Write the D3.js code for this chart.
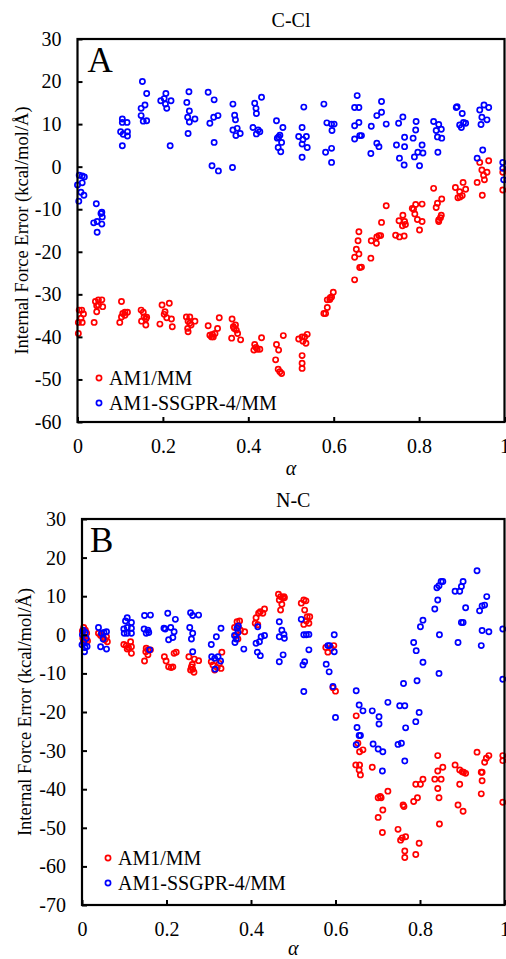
<!DOCTYPE html>
<html>
<head>
<meta charset="utf-8">
<script src="https://cdn.jsdelivr.net/npm/d3@7"></script>
<style>
  body { margin: 0; background: #fff; }
  svg text { font-family: "Liberation Serif", "Times New Roman", serif; fill: #000; }
</style>
</head>
<body>
<svg id="chart" width="506" height="959"></svg>
<script>
// tick labels
let xTicks = [0, 0.2, 0.4, 0.6, 0.8, 1]
let yTicksA = [30, 20, 10, 0, -10, -20, -30, -40, -50, -60]
let yTicksB = [30, 20, 10, 0, -10, -20, -30, -40, -50, -60, -70]
let seriesNames = ['AM1/MM', 'AM1-SSGPR-4/MM']
let seriesColors = ['#ff0000', '#0000ff']

// C-Cl, AM1/MM  [alpha, error]
let cclAm1 = [
  [0.004,-33.7],[0.010,-33.7],[0.014,-34.6],[0.008,-35.6],[0.002,-36.6],[0.011,-36.6],[0.002,-39.2],
  [0.039,-36.6],[0.045,-34.1],[0.042,-31.7],[0.049,-32.5],[0.057,-31.3],[0.059,-32.9],[0.049,-31.3],[0.045,-32.7],
  [0.099,-36.6],[0.103,-31.7],[0.106,-34.5],[0.111,-34.2],[0.117,-34.2],[0.103,-35.3],[0.111,-34.9],
  [0.149,-33.7],[0.150,-36.3],[0.154,-34.2],[0.160,-35.8],[0.160,-37.2],[0.162,-35.4],[0.156,-35.3],
  [0.193,-37.0],[0.198,-32.5],[0.203,-34.7],[0.209,-35.5],[0.215,-32.1],[0.220,-35.8],[0.222,-37.6],[0.205,-34.1],
  [0.255,-35.3],[0.259,-36.3],[0.258,-38.0],[0.259,-38.8],[0.263,-35.3],[0.266,-37.2],[0.275,-36.3],[0.263,-36.8],
  [0.306,-37.4],[0.310,-39.6],[0.314,-40.0],[0.318,-40.0],[0.322,-39.2],[0.328,-38.0],[0.332,-35.5],[0.316,-39.4],
  [0.361,-40.3],[0.362,-35.8],[0.365,-37.6],[0.367,-38.0],[0.370,-37.2],[0.372,-38.4],[0.375,-39.2],[0.382,-40.7],
  [0.413,-43.1],[0.415,-41.8],[0.418,-42.5],[0.421,-42.9],[0.427,-42.9],[0.431,-40.2],
  [0.466,-41.8],[0.471,-43.1],[0.464,-45.4],[0.470,-47.6],[0.474,-48.2],[0.478,-48.6],[0.482,-39.7],
  [0.518,-40.5],[0.526,-40.0],[0.532,-40.0],[0.538,-39.4],[0.528,-41.0],[0.535,-41.5],[0.526,-44.4],[0.526,-46.2],[0.526,-47.4],
  [0.577,-34.5],[0.581,-34.5],[0.585,-33.1],[0.585,-31.3],[0.591,-31.2],[0.595,-30.6],[0.599,-29.5],[0.592,-30.8],
  [0.649,-26.6],[0.649,-21.3],[0.653,-19.4],[0.657,-17.4],[0.659,-15.3],[0.659,-20.5],[0.661,-23.7],[0.665,-23.6],
  [0.687,-21.5],[0.688,-17.4],[0.700,-18.0],[0.701,-16.5],[0.706,-16.2],[0.710,-16.2],[0.712,-13.1],[0.723,-9.2],
  [0.745,-16.1],[0.754,-16.5],[0.765,-16.3],[0.753,-12.7],[0.762,-11.4],[0.766,-12.9],[0.768,-13.6],[0.761,-13.9],
  [0.784,-9.8],[0.790,-11.1],[0.792,-8.9],[0.796,-12.4],[0.807,-8.8],[0.807,-12.9],[0.801,-14.9],[0.787,-10.0],
  [0.834,-5.1],[0.840,-9.6],[0.843,-8.6],[0.846,-12.5],[0.850,-12.0],[0.853,-7.6],[0.846,-12.9],[0.852,-11.4],
  [0.885,-4.9],[0.891,-7.3],[0.895,-5.9],[0.901,-6.8],[0.903,-3.7],[0.909,-5.3],[0.896,-7.1],
  [0.936,-3.7],[0.942,1.0],[0.947,-0.8],[0.951,-2.0],[0.953,-3.1],[0.959,-1.3],[0.963,1.4],[0.948,-6.7],
  [0.996,-1.3],[0.996,-5.5]
]

// C-Cl, AM1-SSGPR-4/MM
let cclSsgpr = [
  [0.004,-2.0],[0.011,-2.2],[0.016,-2.4],[0.000,-4.3],[0.011,-3.8],[0.008,-6.0],[0.015,-6.7],[0.003,-8.1],
  [0.044,-8.7],[0.055,-11.0],[0.038,-13.2],[0.046,-12.9],[0.057,-10.7],[0.058,-11.8],[0.057,-13.5],[0.046,-15.4],
  [0.105,11.2],[0.105,10.4],[0.116,10.4],[0.101,8.2],[0.107,7.6],[0.117,8.2],[0.117,7.2],[0.105,4.9],
  [0.152,20.0],[0.149,13.7],[0.158,14.5],[0.149,12.0],[0.154,10.7],[0.162,10.8],[0.162,17.2],
  [0.195,15.5],[0.203,16.0],[0.207,17.2],[0.206,14.7],[0.209,13.7],[0.219,15.5],[0.217,4.9],
  [0.256,15.1],[0.261,17.6],[0.262,13.1],[0.258,11.6],[0.262,10.5],[0.275,11.2],[0.259,7.8],
  [0.306,17.5],[0.310,10.2],[0.320,15.7],[0.319,11.6],[0.329,12.0],[0.320,5.7],[0.315,0.2],[0.330,-1.0],
  [0.364,14.7],[0.368,12.1],[0.370,11.0],[0.364,8.6],[0.374,9.0],[0.371,7.3],[0.381,7.8],[0.363,-0.2],
  [0.415,14.9],[0.418,13.7],[0.419,12.5],[0.411,9.2],[0.423,8.6],[0.419,7.7],[0.427,8.2],[0.431,16.3],
  [0.466,10.8],[0.474,7.4],[0.468,6.7],[0.478,5.7],[0.470,4.5],[0.476,3.5],[0.481,9.2],[0.471,7.0],
  [0.530,14.0],[0.526,9.2],[0.518,7.1],[0.536,7.1],[0.526,5.3],[0.538,4.5],[0.526,2.2],[0.528,6.4],
  [0.577,14.7],[0.584,10.3],[0.595,10.0],[0.601,10.0],[0.596,8.5],[0.581,3.4],[0.595,4.3],[0.595,1.0],
  [0.655,16.7],[0.649,13.9],[0.659,13.9],[0.649,9.6],[0.659,10.4],[0.661,7.3],[0.665,7.3],[0.649,6.5],
  [0.688,9.5],[0.701,12.0],[0.712,12.8],[0.712,15.3],[0.723,10.0],[0.701,5.5],[0.706,4.7],[0.687,3.1],
  [0.752,10.2],[0.762,11.7],[0.747,5.1],[0.766,6.9],[0.766,4.7],[0.754,2.0],[0.765,0.4],
  [0.793,10.6],[0.792,8.6],[0.786,6.7],[0.797,3.4],[0.789,2.3],[0.807,5.1],[0.801,0.2],[0.809,3.2],
  [0.834,10.6],[0.846,9.9],[0.840,8.5],[0.852,8.8],[0.843,7.0],[0.853,6.7],[0.844,3.4],
  [0.887,13.9],[0.889,14.1],[0.901,12.5],[0.895,9.8],[0.899,9.2],[0.904,10.4],[0.909,10.2],
  [0.942,13.3],[0.952,14.5],[0.963,13.9],[0.947,11.6],[0.959,11.0],[0.945,9.9],[0.949,3.9],[0.936,2.0],
  [0.996,1.0],[0.996,-0.4],[0.998,-3.1]
]

// N-C, AM1/MM
let ncAm1 = [
  [0.004,1.9],[0.008,1.2],[0.011,0.4],[0.002,-0.9],[0.009,-1.3],[0.003,-2.0],[0.013,-1.6],[0.001,1.0],
  [0.039,0.4],[0.044,-0.2],[0.050,-0.7],[0.054,-1.3],[0.060,-1.8],[0.047,0.1],[0.058,-0.5],
  [0.099,-2.5],[0.105,-2.8],[0.110,-3.3],[0.115,-1.8],[0.117,-3.1],[0.117,-4.8],[0.107,-3.7],
  [0.148,-6.8],[0.152,-3.5],[0.156,-3.9],[0.162,-3.9],[0.156,-5.2],[0.151,-4.4],
  [0.195,-5.7],[0.199,-6.8],[0.205,-8.3],[0.211,-8.5],[0.215,-8.3],[0.218,-4.8],[0.223,-4.5],
  [0.253,-5.7],[0.259,-8.3],[0.262,-8.9],[0.265,-9.7],[0.257,-9.1],[0.266,-6.3],[0.276,-6.7],[0.261,-7.7],
  [0.306,-7.0],[0.310,-7.8],[0.314,-9.1],[0.320,-8.5],[0.325,-7.4],[0.329,-8.7],[0.331,-4.5],
  [0.361,1.9],[0.367,3.4],[0.373,3.6],[0.370,1.9],[0.375,1.2],[0.385,0.8],[0.365,-0.2],[0.369,-1.1],
  [0.410,3.0],[0.412,4.4],[0.418,5.6],[0.422,6.0],[0.428,5.6],[0.432,6.7],[0.416,2.6],
  [0.465,10.5],[0.470,9.9],[0.475,9.6],[0.479,9.6],[0.467,9.0],[0.473,7.9],[0.470,6.4],[0.478,9.9],
  [0.519,8.2],[0.525,9.0],[0.530,8.8],[0.527,6.4],[0.533,4.7],[0.537,3.0],[0.525,2.7],[0.539,4.7],[0.531,3.6],
  [0.577,-3.3],[0.582,-4.5],[0.596,-2.8],[0.594,-13.7],[0.600,-14.6],[0.590,-3.5],
  [0.649,-21.0],[0.653,-28.1],[0.657,-30.3],[0.665,-29.8],[0.648,-33.7],[0.657,-33.7],[0.656,-35.0],[0.659,-36.3],
  [0.687,-34.3],[0.701,-42.2],[0.706,-41.9],[0.708,-42.2],[0.712,-45.4],[0.724,-40.5],[0.701,-47.3],[0.711,-51.2],
  [0.748,-50.4],[0.754,-53.2],[0.758,-52.6],[0.766,-52.3],[0.764,-56.0],[0.764,-57.7],[0.760,-44.1],[0.762,-44.5],
  [0.790,-56.9],[0.798,-54.0],[0.794,-42.2],[0.785,-43.2],[0.790,-38.7],[0.801,-38.7],[0.807,-37.4],
  [0.835,-37.4],[0.842,-31.3],[0.842,-35.3],[0.850,-37.4],[0.854,-34.3],[0.842,-39.8],[0.845,-42.2],[0.846,-49.0],
  [0.883,-33.7],[0.894,-35.0],[0.900,-35.5],[0.903,-35.6],[0.908,-35.9],[0.894,-38.7],[0.890,-44.1],[0.902,-45.7],
  [0.935,-30.4],[0.947,-35.6],[0.953,-33.0],[0.957,-32.0],[0.963,-31.3],[0.945,-35.6],[0.947,-37.8],[0.945,-41.2],
  [0.996,-31.3],[0.996,-32.6],[0.996,-43.4]
]

// N-C, AM1-SSGPR-4/MM
let ncSsgpr = [
  [0.003,1.2],[0.008,0.6],[0.001,0.0],[0.010,-0.9],[0.004,-1.8],[0.000,-2.6],[0.007,-3.3],[0.012,-3.0],[0.006,-4.4],
  [0.039,1.9],[0.046,0.4],[0.052,0.6],[0.058,0.8],[0.044,-3.1],[0.058,-3.7],[0.050,-1.1],
  [0.107,4.4],[0.103,3.6],[0.117,3.2],[0.107,1.9],[0.099,1.5],[0.117,1.7],[0.107,0.4],[0.117,0.4],[0.100,0.4],
  [0.148,5.0],[0.162,5.1],[0.147,1.5],[0.156,1.2],[0.152,0.4],[0.160,-3.9],[0.158,0.6],
  [0.194,1.7],[0.203,5.6],[0.210,1.9],[0.221,4.0],[0.218,0.8],[0.205,-1.3],[0.215,-0.7],[0.197,1.5],
  [0.257,5.7],[0.262,5.0],[0.276,5.1],[0.255,1.9],[0.262,0.4],[0.259,-1.1],[0.262,-4.4],
  [0.306,-2.5],[0.318,-0.5],[0.329,1.7],[0.307,-5.7],[0.314,-6.1],[0.315,-8.9],[0.322,-5.7],[0.328,-6.8],
  [0.361,-0.2],[0.367,1.7],[0.370,2.3],[0.365,-1.1],[0.369,0.6],[0.383,-3.7],[0.362,-2.0],
  [0.416,2.1],[0.412,-2.2],[0.420,-1.8],[0.424,-0.5],[0.415,-4.5],[0.422,-5.4],[0.432,-0.2],
  [0.467,3.4],[0.473,1.2],[0.478,0.1],[0.479,-0.9],[0.467,-0.5],[0.476,-5.2],[0.467,-7.0],
  [0.519,4.0],[0.525,0.0],[0.531,0.0],[0.537,0.1],[0.537,-3.9],[0.527,-7.0],[0.523,-7.8],[0.525,-14.7],
  [0.582,-2.8],[0.586,-2.8],[0.597,0.0],[0.597,-4.4],[0.578,-7.6],[0.585,-9.6],[0.594,-13.4],[0.600,-21.4],
  [0.649,-14.5],[0.656,-18.2],[0.665,-19.7],[0.651,-24.0],[0.656,-26.1],[0.659,-26.1],[0.649,-28.5],
  [0.687,-19.7],[0.703,-21.2],[0.703,-23.1],[0.724,-17.5],[0.689,-28.3],[0.701,-29.6],[0.712,-30.3],[0.711,-35.3],
  [0.752,-18.4],[0.764,-18.4],[0.761,-12.6],[0.766,-24.1],[0.748,-28.4],[0.756,-28.1],[0.764,-32.7],
  [0.798,-20.1],[0.790,-22.5],[0.793,-11.9],[0.785,-2.0],[0.791,-4.1],[0.807,-7.1],[0.801,2.1],[0.807,3.8],
  [0.835,6.7],[0.842,9.0],[0.840,12.2],[0.845,12.7],[0.850,13.8],[0.854,13.8],[0.846,0.0],[0.845,-10.0],
  [0.883,11.3],[0.894,11.3],[0.898,12.5],[0.902,13.8],[0.908,7.0],[0.898,3.2],[0.902,3.2],[0.890,-2.0],
  [0.935,16.6],[0.941,6.2],[0.947,7.5],[0.953,7.7],[0.958,9.9],[0.947,1.1],[0.963,0.8],[0.945,-2.8],
  [0.996,1.5],[0.996,-11.5]
]

let svg = d3.select('#chart')

function drawPanel(p) {
  let g = svg.append('g')

  let xScale = d3.scaleLinear()
        .domain([0, 1])
        .range([p.left, p.right])
  let yScale = d3.scaleLinear()
        .domain([p.yTicks[p.yTicks.length - 1], p.yTicks[0]])
        .range([p.bottom, p.top])

  // points: red first, blue on top
  p.series.forEach((s, i) => {
    g.append('g')
      .selectAll('circle')
      .data(s)
      .enter()
      .append('circle')
      .attr('cx', d => xScale(d[0]))
      .attr('cy', d => yScale(d[1]))
      .attr('r', 2.6)
      .attr('fill', 'none')
      .attr('stroke', seriesColors[i])
      .attr('stroke-width', 1.7)
  })

  // axes, ticks point inward
  let xAxis = d3.axisBottom(xScale)
        .tickValues(xTicks)
        .tickFormat(d => String(d))
        .tickSize(-5)
        .tickPadding(17)
  let yAxis = d3.axisLeft(yScale)
        .tickValues(p.yTicks)
        .tickFormat(d => String(d))
        .tickSize(-5)
        .tickPadding(16)

  let xg = g.append('g')
        .attr('transform', 'translate(0,' + p.bottom + ')')
        .call(xAxis)
  let yg = g.append('g')
        .attr('transform', 'translate(' + p.left + ',0)')
        .call(yAxis)

  ;[xg, yg].forEach(a => {
    a.select('.domain').remove()
    a.selectAll('line').attr('stroke', '#000').attr('stroke-width', 2)
    a.selectAll('text').style('font-size', '20px').attr('fill', '#000')
  })

  // frame
  g.append('rect')
    .attr('x', p.left)
    .attr('y', p.top)
    .attr('width', p.right - p.left)
    .attr('height', p.bottom - p.top)
    .attr('fill', 'none')
    .attr('stroke', '#000')
    .attr('stroke-width', 2.2)

  // title, letter, axis labels
  g.append('text')
    .attr('x', (p.left + p.right) / 2)
    .attr('y', p.top - 12)
    .attr('text-anchor', 'middle')
    .style('font-size', '20px')
    .text(p.title)

  g.append('text')
    .attr('x', p.left + p.letterDx)
    .attr('y', p.top + 33)
    .style('font-size', '35px')
    .text(p.letter)

  g.append('text')
    .attr('transform', 'translate(' + p.yLabelX + ',' + (p.top + p.bottom) / 2 + ') rotate(-90)')
    .attr('text-anchor', 'middle')
    .style('font-size', '18.5px')
    .text('Internal Force Error (kcal/mol/Å)')

  g.append('text')
    .attr('x', (p.left + p.right) / 2)
    .attr('y', p.bottom + p.alphaDy)
    .attr('text-anchor', 'middle')
    .style('font-size', '20px')
    .style('font-style', 'italic')
    .text('α')

  // legend
  seriesNames.forEach((name, i) => {
    let ly = p.legendY + i * p.legendStep
    g.append('circle')
      .attr('cx', p.legendX)
      .attr('cy', ly)
      .attr('r', 2.6)
      .attr('fill', 'none')
      .attr('stroke', seriesColors[i])
      .attr('stroke-width', 1.7)
    g.append('text')
      .attr('x', p.legendX + 10)
      .attr('y', ly + 7)
      .style('font-size', '20px')
      .text(name)
  })
}

drawPanel({
  title: 'C-Cl', letter: 'A', letterDx: 10,
  left: 77.5, right: 504.5, top: 39, bottom: 422,
  yTicks: yTicksA, series: [cclAm1, cclSsgpr],
  yLabelX: 28, alphaDy: 53,
  legendX: 99, legendY: 378, legendStep: 25
})

drawPanel({
  title: 'N-C', letter: 'B', letterDx: 8,
  left: 82, right: 504.5, top: 519, bottom: 905,
  yTicks: yTicksB, series: [ncAm1, ncSsgpr],
  yLabelX: 31, alphaDy: 50,
  legendX: 108, legendY: 858, legendStep: 25
})
</script>
</body>
</html>
